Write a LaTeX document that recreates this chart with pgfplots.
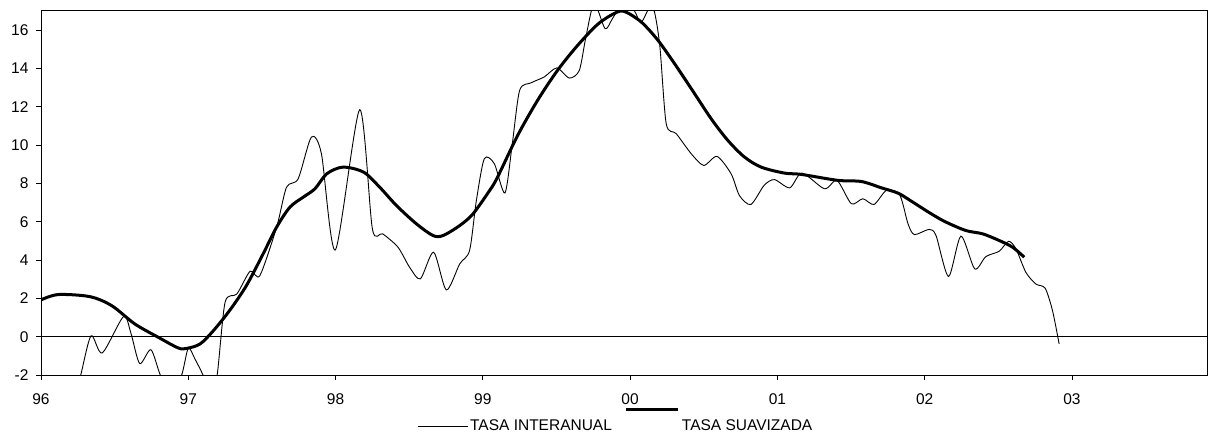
\documentclass[border=0pt]{standalone}
\usepackage{fontspec}
\setmainfont{Liberation Sans}
\usepackage{pgfplots}
\pgfplotsset{compat=1.18}
\begin{document}
\begin{tikzpicture}
\useasboundingbox (-41pt,-62pt) rectangle (1169pt,375pt);
\begin{axis}[
  at={(0pt,0pt)}, anchor=south west,
  scale only axis, width=1166pt, height=364pt,
  xmin=0, xmax=7.917, ymin=-2, ymax=17,
  xtick={0,1,2,3,4,5,6,7}, xticklabels={96,97,98,99,00,01,02,03},
  ytick={-2,0,2,4,6,8,10,12,14,16}, yticklabels={-2,0,2,4,6,8,10,12,14,16},
  tick align=outside, tick pos=left, major tick length=5pt,
  tick style={black, line width=0.8pt},
  axis line style={black, line width=1pt},
  ticklabel style={font=\fontsize{15.5}{18}\selectfont},
  xticklabel style={yshift=-10pt},
  yticklabel style={xshift=-4pt},
  legend style={draw=none, fill=none, at={(0.3225,-0.126)}, anchor=west,
    legend columns=2, font=\fontsize{15.5}{18}\selectfont, inner sep=0pt,
    /tikz/every even column/.append style={column sep=11pt}},
  legend cell align=left,
]
\addplot[black, line width=0.8pt, forget plot] coordinates {(0,0) (7.917,0)};
\addplot[black, line width=0.9pt, smooth, tension=0.45,
  legend image code/.code={\draw[black,line width=0.9pt] (0pt,0pt) -- (50pt,0pt);}]
coordinates {
(0.22,-3.5) (0.27,-2.0) (0.34,0.05) (0.416,-0.85) (0.56,1.05) (0.61,0.2)
(0.67,-1.4) (0.746,-0.68) (0.81,-2.0) (0.88,-3.0) (0.955,-2.0) (1.0,-0.6)
(1.045,-1.16) (1.1,-2.0) (1.15,-3.0) (1.196,-2.0) (1.25,1.8) (1.33,2.23)
(1.42,3.42) (1.486,3.19) (1.6,5.72) (1.667,7.8) (1.746,8.24) (1.836,10.42)
(1.904,9.55) (1.999,4.53) (2.164,11.85) (2.25,5.63) (2.32,5.37) (2.424,4.67)
(2.503,3.62) (2.576,3.02) (2.666,4.41) (2.752,2.44) (2.843,3.8) (2.91,4.5)
(2.956,7.1) (3.01,9.29) (3.078,9.03) (3.15,7.5) (3.2,10.07) (3.25,12.86)
(3.327,13.25) (3.417,13.56) (3.503,14.03) (3.587,13.5) (3.655,13.9) (3.7,15.65)
(3.756,17.4) (3.83,16.08) (3.88,16.6) (3.96,17.5) (4.03,17.0) (4.075,16.4)
(4.15,17.3) (4.2,15.3) (4.245,11.12) (4.313,10.6) (4.415,9.55) (4.5,8.94)
(4.59,9.41) (4.686,8.5) (4.742,7.37) (4.82,6.9) (4.91,7.9) (4.98,8.2)
(5.084,7.77) (5.167,8.54) (5.32,7.72) (5.405,8.16) (5.502,6.94) (5.58,7.2)
(5.656,6.9) (5.74,7.63) (5.83,7.41) (5.887,5.89) (5.93,5.33) (6.03,5.6)
(6.077,5.28) (6.162,3.14) (6.246,5.25) (6.34,3.54) (6.415,4.18) (6.506,4.46)
(6.57,4.98) (6.62,4.58) (6.687,3.36) (6.755,2.75) (6.818,2.53) (6.868,1.36)
(6.913,-0.38)
};
\addlegendentry{TASA INTERANUAL}
\addplot[black, line width=3pt, smooth, tension=0.5,
  legend image code/.code={\draw[black,line width=3pt] (0pt,17pt) -- (52pt,17pt);}]
coordinates {
(0,1.92) (0.117,2.2) (0.332,2.09) (0.48,1.62) (0.638,0.66) (0.796,-0.03)
(0.932,-0.59) (0.99,-0.61) (1.08,-0.38) (1.17,0.31) (1.28,1.36) (1.395,2.67)
(1.508,4.32) (1.6,5.72) (1.69,6.76) (1.78,7.28) (1.86,7.72) (1.94,8.5)
(2.05,8.85) (2.19,8.59) (2.3,7.8) (2.413,6.85) (2.549,5.89) (2.662,5.28)
(2.73,5.28) (2.843,5.8) (2.933,6.41) (3.046,7.63) (3.1,8.33) (3.236,10.5)
(3.372,12.34) (3.507,13.9) (3.643,15.2) (3.779,16.3) (3.892,16.87) (3.96,16.98)
(4.075,16.43) (4.188,15.48) (4.301,14.26) (4.415,12.95) (4.55,11.38) (4.663,10.25)
(4.776,9.38) (4.89,8.85) (5.047,8.54) (5.163,8.47) (5.41,8.16) (5.57,8.1)
(5.706,7.77) (5.82,7.49) (5.91,7.07) (6.045,6.41) (6.145,5.98) (6.28,5.54)
(6.393,5.37) (6.506,5.02) (6.597,4.67) (6.676,4.15)
};
\addlegendentry{TASA SUAVIZADA}
\end{axis}
\end{tikzpicture}
\end{document}
